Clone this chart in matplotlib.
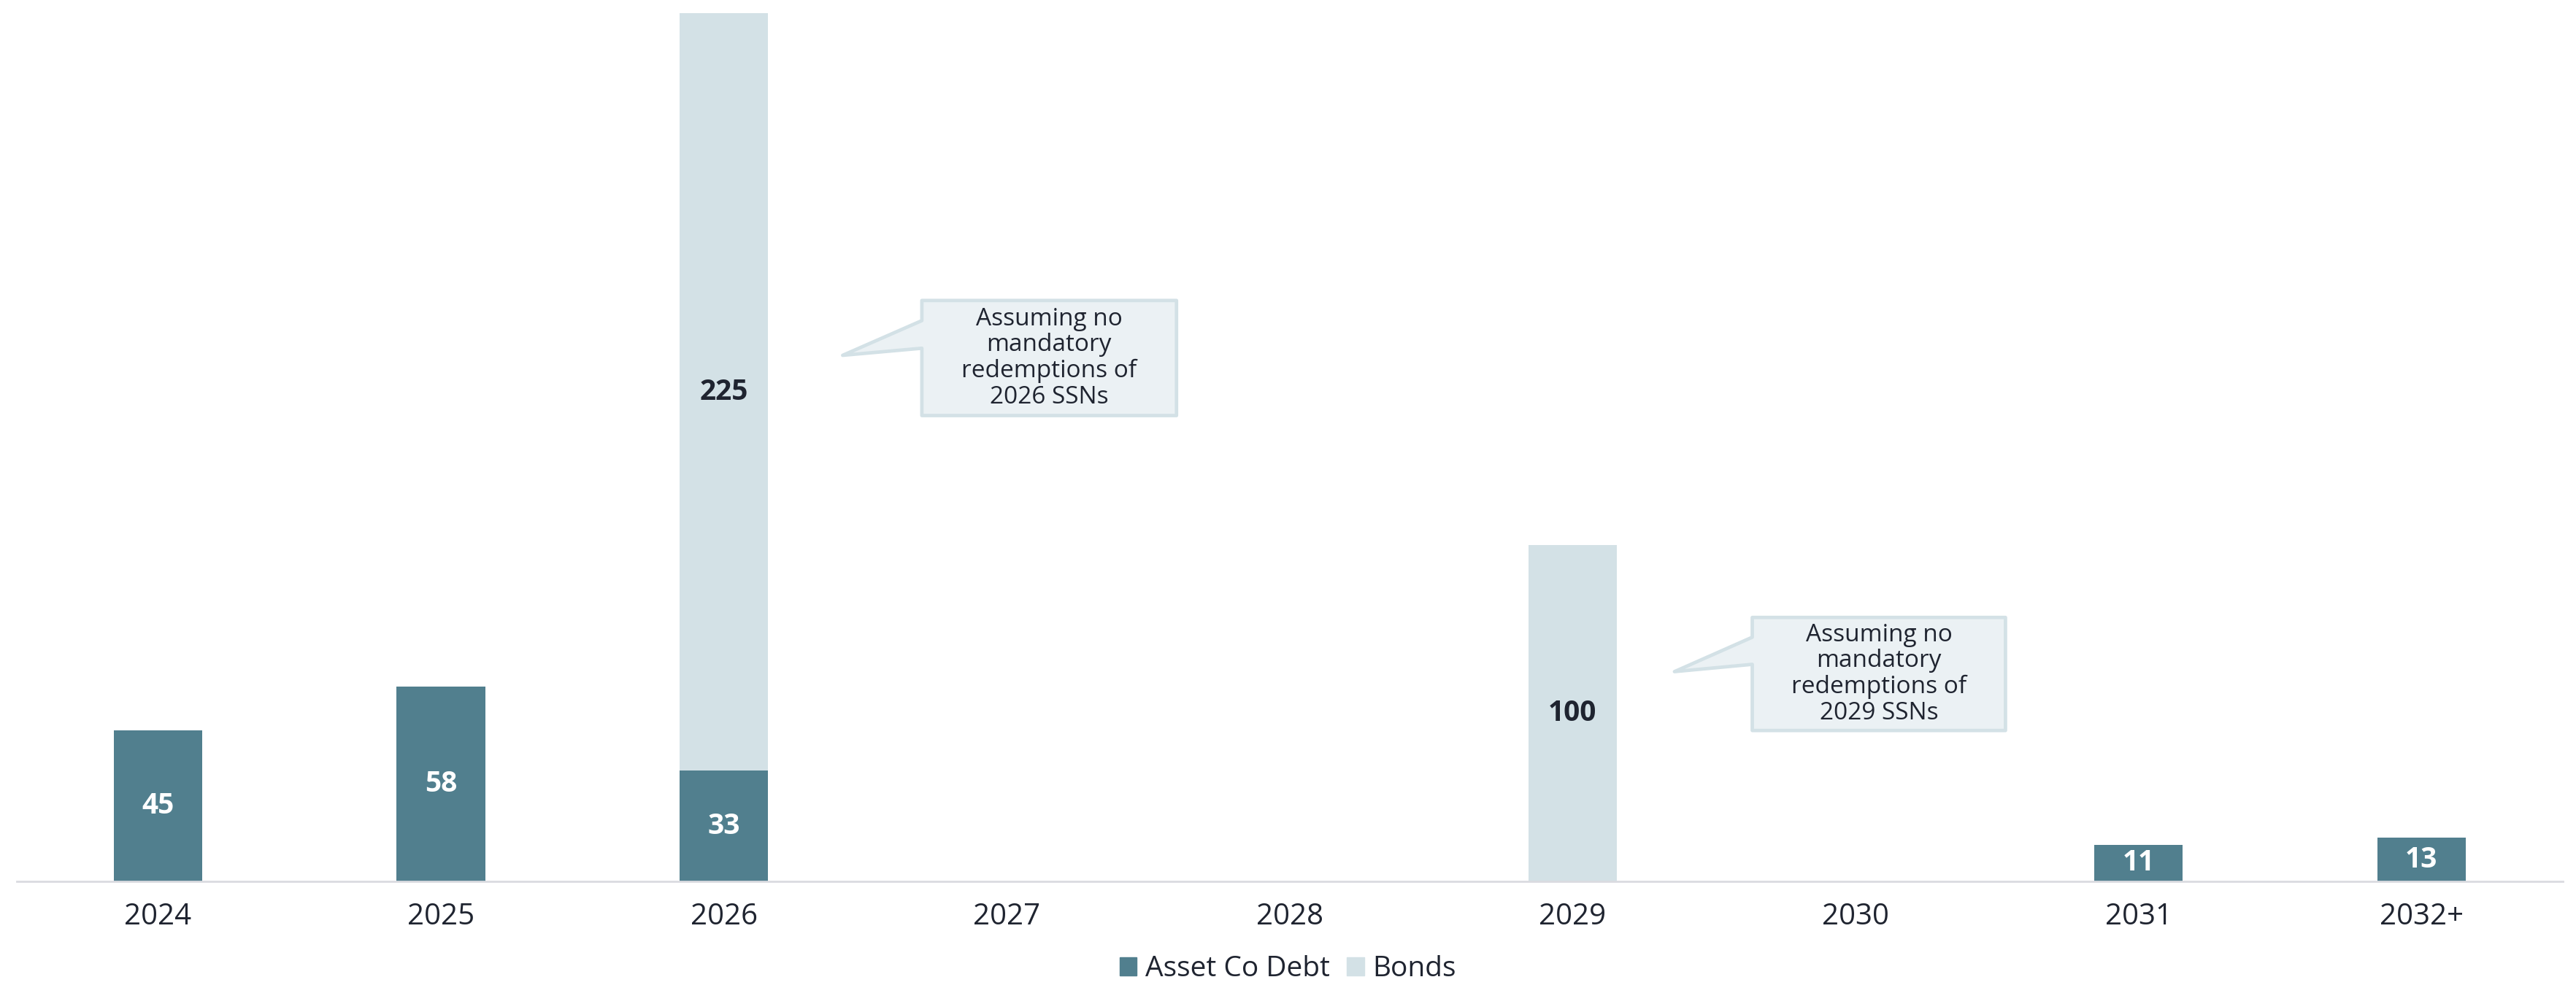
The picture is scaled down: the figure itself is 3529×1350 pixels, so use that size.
import matplotlib.pyplot as plt
from matplotlib.patches import Patch, Polygon
import numpy as np

# Data
years = ["2024", "2025", "2026", "2027", "2028", "2029", "2030", "2031", "2032+"]
asset_co_debt = [45, 58, 33, 0, 0, 0, 0, 11, 13]
bonds = [0, 0, 225, 0, 0, 100, 0, 0, 0]

callout_texts = [
    "Assuming no\nmandatory\nredemptions of\n2026 SSNs",
    "Assuming no\nmandatory\nredemptions of\n2029 SSNs",
]
# (tip_x, tip_y, box_x0, box_x1, box_y0, box_y1) in data units
callout_boxes = [
    (2.42, 156.4, 2.70, 3.60, 138.5, 172.7),
    (5.36, 62.4, 5.635, 6.53, 44.9, 78.5),
]

DARK = "#517F8E"
LIGHT = "#D3E1E6"
TEXT = "#1F2430"
BOX_FILL = "#EBF1F4"

plt.rcParams["font.family"] = ["Open Sans", "DejaVu Sans"]

fig = plt.figure(figsize=(35.29, 13.5), dpi=100)
ax = fig.add_axes([0.0064, 0.105, 0.9885, 0.895])

x = np.arange(len(years))
w = 0.313
ax.bar(x, asset_co_debt, width=w, color=DARK, label="Asset Co Debt")
ax.bar(x, bonds, width=w, bottom=asset_co_debt, color=LIGHT, label="Bonds")

# value labels
for i in range(len(years)):
    if asset_co_debt[i] > 0:
        ax.text(x[i], asset_co_debt[i] / 2, str(asset_co_debt[i]), ha="center",
                va="center", color="white", fontsize=28, fontweight="bold")
    if bonds[i] > 0:
        ax.text(x[i], asset_co_debt[i] + bonds[i] / 2, str(bonds[i]), ha="center",
                va="center", color=TEXT, fontsize=28, fontweight="bold")

# callouts
for txt, (tx, ty, x0, x1, y0, y1) in zip(callout_texts, callout_boxes):
    h = y1 - y0
    pts = [(x0, y1), (x1, y1), (x1, y0), (x0, y0),
           (x0, y1 - 0.415 * h), (tx, ty), (x0, y1 - 0.175 * h)]
    ax.add_patch(Polygon(pts, closed=True, facecolor=BOX_FILL, edgecolor=LIGHT,
                         linewidth=3.4, joinstyle="round", zorder=3))
    ax.text((x0 + x1) / 2, (y0 + y1) / 2, txt, ha="center", va="center",
            fontsize=24, color=TEXT, linespacing=1.1, zorder=4)

ax.set_xlim(-0.5, 8.5)
ax.set_ylim(0, 262)
ax.set_xticks(x)
ax.set_xticklabels(years, fontsize=29, color=TEXT)
ax.tick_params(axis="x", length=0, pad=20)
ax.set_yticks([])
for s in ["top", "right", "left"]:
    ax.spines[s].set_visible(False)
ax.spines["bottom"].set_color("#DADBE0")
ax.spines["bottom"].set_linewidth(2)

handles = [Patch(color=DARK, label="Asset Co Debt"), Patch(color=LIGHT, label="Bonds")]
fig.legend(handles=handles, loc="center", bbox_to_anchor=(0.5, 0.016), ncol=2,
           frameon=False, fontsize=28, handlelength=0.6, handleheight=0.6,
           handletextpad=0.3, columnspacing=0.6, labelcolor=TEXT)

plt.savefig("out.png", dpi=100)
